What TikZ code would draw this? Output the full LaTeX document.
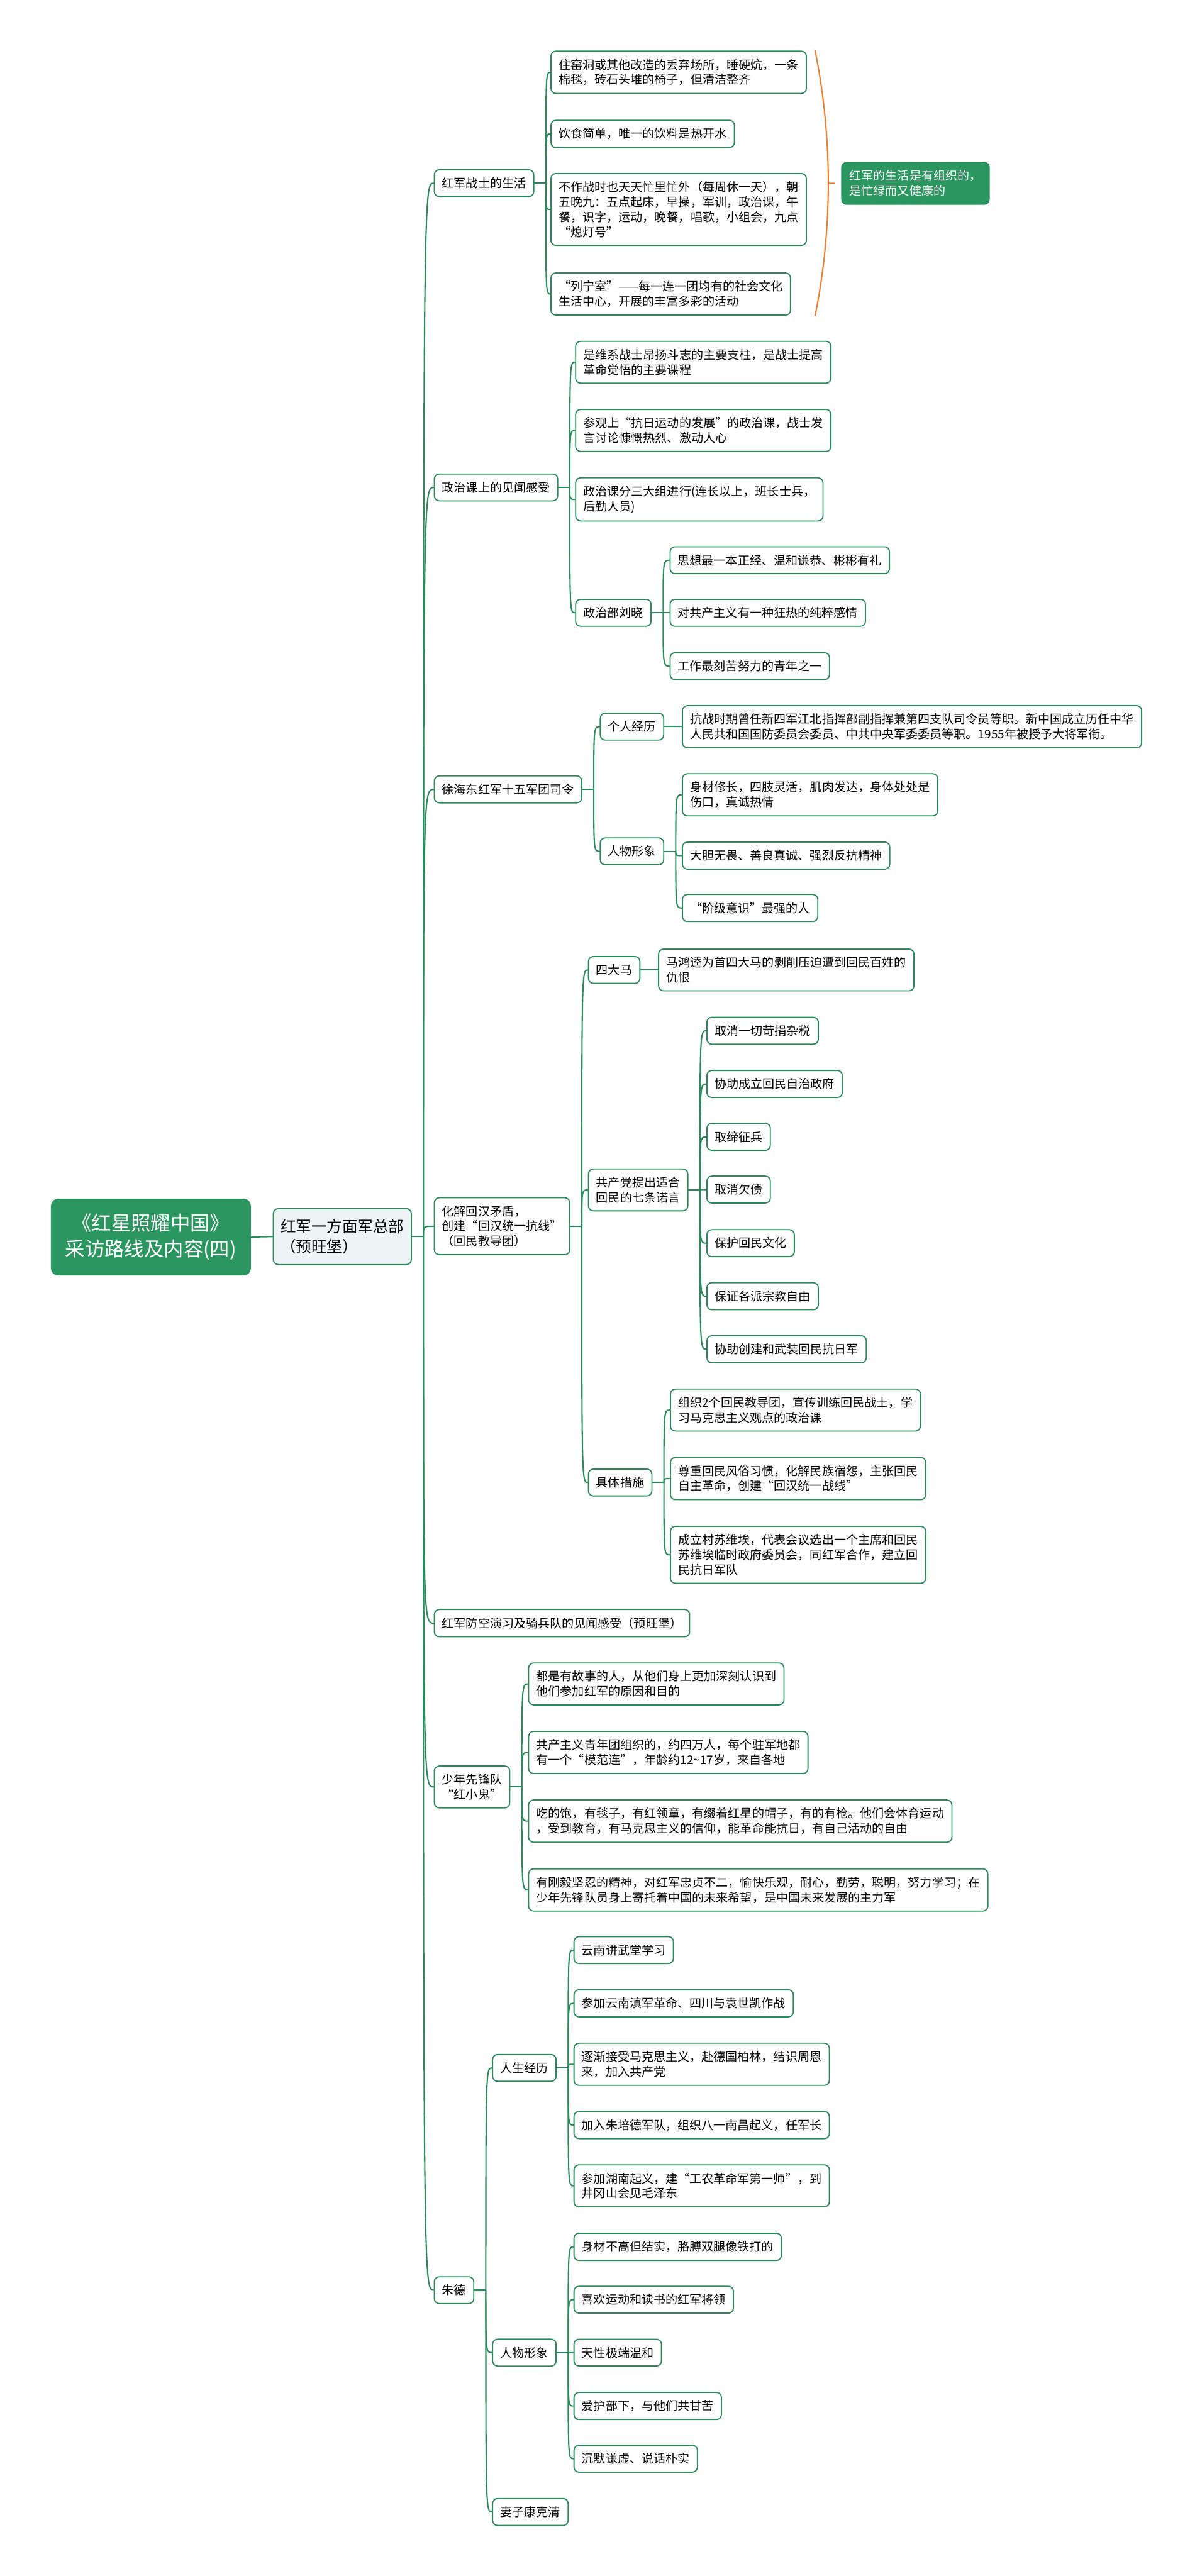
\documentclass[tikz,border=0pt]{standalone}
\usepackage{fontspec}
\setmainfont{Noto Sans CJK SC}
\definecolor{mapgreen}{RGB}{40,140,90}
\definecolor{rootgreen}{RGB}{44,150,96}
\definecolor{hubgray}{RGB}{238,243,246}
\definecolor{braceorange}{RGB}{236,128,46}
\begin{document}
\begin{tikzpicture}[x=1pt, y=-1pt, line cap=round,
    link/.style={draw=mapgreen, line width=0.8pt},
    box/.style={draw=mapgreen, line width=0.7pt, rounded corners=3pt, fill=white,
      anchor=west, align=left, inner xsep=4.7pt, inner ysep=4.8pt,
      font=\fontsize{7.3}{9.1}\selectfont},
    hub/.style={box, fill=hubgray, inner xsep=4.4pt, minimum width=84pt,
      minimum height=34pt, font=\fontsize{9.4}{12.1}\selectfont},
    root/.style={box, draw=rootgreen, fill=rootgreen, text=white, rounded corners=4pt,
      align=center, minimum width=121pt, minimum height=46pt,
      font=\fontsize{12}{15.7}\selectfont},
    note/.style={box, fill=rootgreen, text=white},
    brace/.style={draw=braceorange, line width=0.8pt}]
  \fill[white] (0,0) rectangle (724,1568);
  \useasboundingbox (0,0) rectangle (724,1568);

  % 中心主题与一级节点
  \node[root] (root) at (31,753) {《红星照耀中国》\\采访路线及内容(四)};
  \node[hub] (hub) at (166,752.7) {红军一方面军总部\\（预旺堡）};

  % 二级节点
  \node[box] (life)   at (264,111.5)  {红军战士的生活};
  \node[box] (class)  at (264,296.7)  {政治课上的见闻感受};
  \node[box] (xu)     at (264,480.5)  {徐海东红军十五军团司令};
  \node[box] (huihan) at (264,746.4)  {化解回汉矛盾，\\创建“回汉统一抗线”\\（回民教导团）};
  \node[box] (drill)  at (264,988)    {红军防空演习及骑兵队的见闻感受（预旺堡）};
  \node[box] (youth)  at (264,1087.7) {少年先锋队\\“红小鬼”};
  \node[box] (zhu)    at (264,1394)   {朱德};

  % 红军战士的生活
  \node[box] (life1) at (335,44)    {住窑洞或其他改造的丢弃场所，睡硬炕，一条\\棉毯，砖石头堆的椅子，但清洁整齐};
  \node[box] (life2) at (335,81.5)  {饮食简单，唯一的饮料是热开水};
  \node[box] (life3) at (335,127.5) {不作战时也天天忙里忙外（每周休一天），朝\\五晚九：五点起床，早操，军训，政治课，午\\餐，识字，运动，晚餐，唱歌，小组会，九点\\“熄灯号”};
  \node[box] (life4) at (335,179)   {“列宁室”——每一连一团均有的社会文化\\生活中心，开展的丰富多彩的活动};
  \node[note] (lifenote) at (512,111.6) {红军的生活是有组织的，\\是忙绿而又健康的};

  % 政治课上的见闻感受
  \node[box] (class1) at (350,220.5) {是维系战士昂扬斗志的主要支柱，是战士提高\\革命觉悟的主要课程};
  \node[box] (class2) at (350,262)   {参观上“抗日运动的发展”的政治课，战士发\\言讨论慷慨热烈、激动人心};
  \node[box] (class3) at (350,304)   {政治课分三大组进行(连长以上，班长士兵，\\后勤人员)};
  \node[box] (class4) at (350,373)   {政治部刘晓};
  \node[box] (liu1) at (407.5,341)   {思想最一本正经、温和谦恭、彬彬有礼};
  \node[box] (liu2) at (407.5,373)   {对共产主义有一种狂热的纯粹感情};
  \node[box] (liu3) at (407.5,405.5) {工作最刻苦努力的青年之一};

  % 徐海东
  \node[box] (xu1)  at (365,442.3) {个人经历};
  \node[box] (xu2)  at (365,518.2) {人物形象};
  \node[box] (xu11) at (415,442.3) {抗战时期曾任新四军江北指挥部副指挥兼第四支队司令员等职。新中国成立历任中华\\人民共和国国防委员会委员、中共中央军委委员等职。1955年被授予大将军衔。};
  \node[box] (xu21) at (415,483.8) {身材修长，四肢灵活，肌肉发达，身体处处是\\伤口，真诚热情};
  \node[box] (xu22) at (415,520.8) {大胆无畏、善良真诚、强烈反抗精神};
  \node[box] (xu23) at (415,552.7) {“阶级意识”最强的人};

  % 化解回汉矛盾
  \node[box] (hui1)  at (357.8,590.4) {四大马};
  \node[box] (hui2)  at (357.8,724.3) {共产党提出适合\\回民的七条诺言};
  \node[box] (hui3)  at (357.8,902.4) {具体措施};
  \node[box] (hui11) at (400.5,590.4) {马鸿逵为首四大马的剥削压迫遭到回民百姓的\\仇恨};
  \node[box] (hui21) at (429.9,627.4) {取消一切苛捐杂税};
  \node[box] (hui22) at (429.9,659.8) {协助成立回民自治政府};
  \node[box] (hui23) at (429.9,692)   {取缔征兵};
  \node[box] (hui24) at (429.9,724.1) {取消欠债};
  \node[box] (hui25) at (429.9,756.7) {保护回民文化};
  \node[box] (hui26) at (429.9,789)   {保证各派宗教自由};
  \node[box] (hui27) at (429.9,821.3) {协助创建和武装回民抗日军};
  \node[box] (hui31) at (407.7,858.3) {组织2个回民教导团，宣传训练回民战士，学\\习马克思主义观点的政治课};
  \node[box] (hui32) at (407.7,900)   {尊重回民风俗习惯，化解民族宿怨，主张回民\\自主革命，创建“回汉统一战线”};
  \node[box] (hui33) at (407.7,946.4) {成立村苏维埃，代表会议选出一个主席和回民\\苏维埃临时政府委员会，同红军合作，建立回\\民抗日军队};

  % 少年先锋队
  \node[box] (youth1) at (321.4,1025)   {都是有故事的人，从他们身上更加深刻认识到\\他们参加红军的原因和目的};
  \node[box] (youth2) at (321.4,1066.7) {共产主义青年团组织的，约四万人，每个驻军地都\\有一个“模范连”，年龄约12\textasciitilde17岁，来自各地};
  \node[box] (youth3) at (321.4,1108.5) {吃的饱，有毯子，有红领章，有缀着红星的帽子，有的有枪。他们会体育运动\\，受到教育，有马克思主义的信仰，能革命能抗日，有自己活动的自由};
  \node[box] (youth4) at (321.4,1150.4) {有刚毅坚忍的精神，对红军忠贞不二，愉快乐观，耐心，勤劳，聪明，努力学习；在\\少年先锋队员身上寄托着中国的未来希望，是中国未来发展的主力军};

  % 朱德
  \node[box] (zhu1) at (299.5,1258.7) {人生经历};
  \node[box] (zhu2) at (299.5,1432)   {人物形象};
  \node[box] (zhu3) at (299.5,1529)   {妻子康克清};
  \node[box] (zhu11) at (349,1187)   {云南讲武堂学习};
  \node[box] (zhu12) at (349,1219.4) {参加云南滇军革命、四川与袁世凯作战};
  \node[box] (zhu13) at (349,1256.5) {逐渐接受马克思主义，赴德国柏林，结识周恩\\来，加入共产党};
  \node[box] (zhu14) at (349,1293.5) {加入朱培德军队，组织八一南昌起义，任军长};
  \node[box] (zhu15) at (349,1330.5) {参加湖南起义，建“工农革命军第一师”，到\\井冈山会见毛泽东};
  \node[box] (zhu21) at (349,1367.6) {身材不高但结实，胳膊双腿像铁打的};
  \node[box] (zhu22) at (349,1399.8) {喜欢运动和读书的红军将领};
  \node[box] (zhu23) at (349,1432)   {天性极端温和};
  \node[box] (zhu24) at (349,1464.5) {爱护部下，与他们共甘苦};
  \node[box] (zhu25) at (349,1496.6) {沉默谦虚、说话朴实};

  % 连线：父节点右侧短横线 + 曲线分支
  \draw[link] (root.east) -- (hub.west);
  \foreach \p/\cs in {hub/{life,class,xu,huihan,drill,youth,zhu},
      life/{life1,life2,life3,life4}, class/{class1,class2,class3,class4},
      class4/{liu1,liu2,liu3}, xu/{xu1,xu2}, xu1/{xu11}, xu2/{xu21,xu22,xu23},
      huihan/{hui1,hui2,hui3}, hui1/{hui11},
      hui2/{hui21,hui22,hui23,hui24,hui25,hui26,hui27}, hui3/{hui31,hui32,hui33},
      youth/{youth1,youth2,youth3,youth4}, zhu/{zhu1,zhu2,zhu3},
      zhu1/{zhu11,zhu12,zhu13,zhu14,zhu15}, zhu2/{zhu21,zhu22,zhu23,zhu24,zhu25}} {
    \coordinate (s) at ([xshift=7pt]\p.east);
    \draw[link] (\p.east) -- (s);
    \foreach \c in \cs
      \draw[link] (s) .. controls (s |- \c.west) .. (\c.west);
  }

  % 概要括号
  \coordinate (bt) at ([xshift=5pt]life1.north east);
  \coordinate (bb) at (bt |- life4.south);
  \draw[brace] (bt) .. controls +(10.7,53) and +(10.7,-53) .. (bb) coordinate[pos=0.5] (bm);
  \draw[brace, shorten >=4pt] (bm) -- (lifenote.west);
\end{tikzpicture}
\end{document}
